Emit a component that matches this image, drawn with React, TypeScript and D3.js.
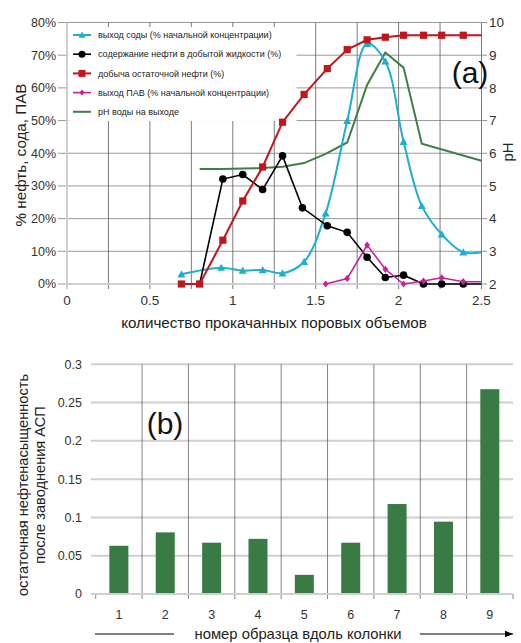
import React from "react";
import * as d3 from "d3";

// ---- Chart (a) data ----
const xTicksA = [0, 0.5, 1, 1.5, 2, 2.5];
const yTicksA = [0, 10, 20, 30, 40, 50, 60, 70, 80];
const phTicks = [2, 3, 4, 5, 6, 7, 8, 9, 10];

const sodaX = [0.69, 0.93, 1.06, 1.18, 1.3, 1.43, 1.56, 1.69, 1.81, 1.92, 2.03, 2.14, 2.26, 2.39, 2.5];
const sodaY = [3.0, 5.0, 4.1, 4.3, 3.3, 6.8, 21.6, 49.9, 73.5, 68.1, 43.5, 23.9, 15.2, 9.7, 9.7];
const sodaMarkers = 14;

const oilX = [0.8, 0.94, 1.06, 1.18, 1.3, 1.42, 1.57, 1.69, 1.81, 1.92, 2.03, 2.15, 2.26, 2.39, 2.5];
const oilY = [0, 32.1, 33.5, 28.9, 39.2, 23.3, 17.8, 15.8, 8.2, 2.0, 2.7, 0, 0, 0, 0];
const oilMarkers = [false, true, true, true, true, true, true, true, true, true, true, true, true, true, false];

const recX = [0.69, 0.8, 0.94, 1.06, 1.18, 1.3, 1.43, 1.57, 1.69, 1.81, 1.92, 2.03, 2.15, 2.26, 2.39, 2.5];
const recY = [0, 0, 13.4, 25.4, 35.8, 49.5, 58.0, 65.9, 71.7, 74.7, 75.5, 76.1, 76.1, 76.1, 76.1, 76.1];
const recMarkers = 15;

const surfX = [1.56, 1.69, 1.81, 1.92, 2.03, 2.15, 2.26, 2.39, 2.5];
const surfY = [0, 1.7, 11.9, 4.5, 0, 0.9, 1.9, 0.7, 0.7];
const surfMarkers = 8;

const phX = [0.8, 0.94, 1.06, 1.18, 1.3, 1.43, 1.56, 1.69, 1.81, 1.92, 2.03, 2.14, 2.5];
const phY = [5.52, 5.52, 5.53, 5.55, 5.59, 5.7, 5.98, 6.33, 8.09, 9.08, 8.62, 6.29, 5.77];

const legendLabels = [
  "выход соды (% начальной концентрации)",
  "содержание нефти в добытой жидкости (%)",
  "добыча остаточной нефти (%)",
  "выход ПАВ (% начальной концентрации)",
  "pH воды на выходе",
];

// ---- Chart (b) data ----
const samples = ["1", "2", "3", "4", "5", "6", "7", "8", "9"];
const residual = [0.063, 0.0805, 0.067, 0.072, 0.025, 0.067, 0.1175, 0.0945, 0.2675];
const yTicksB = [0, 0.05, 0.1, 0.15, 0.2, 0.25, 0.3];

const FONT = "'Liberation Sans', Arial, Helvetica, sans-serif";
const C_CYAN = "#1eaed0";
const C_BLACK = "#000000";
const C_RED = "#c0161e";
const C_MAG = "#c8209e";
const C_GREEN = "#3f7f47";
const C_BAR = "#3a7b45";

function Triangle({ x, y, s = 4, fill }: { x: number; y: number; s?: number; fill: string }) {
  return <path d={`M${x},${y - s}L${x + s},${y + s * 0.8}L${x - s},${y + s * 0.8}Z`} fill={fill} />;
}
function Diamond({ x, y, s = 3.6, fill }: { x: number; y: number; s?: number; fill: string }) {
  return <path d={`M${x},${y - s}L${x + s * 0.8},${y}L${x},${y + s}L${x - s * 0.8},${y}Z`} fill={fill} />;
}

export default function App() {
  // chart (a) scales
  const xA = d3.scaleLinear().domain([0, 2.5]).range([67, 481.5]);
  const yA = d3.scaleLinear().domain([0, 80]).range([284, 22.5]);
  const yPH = d3.scaleLinear().domain([2, 10]).range([284, 22.5]);

  const lineA = (xs: number[], ys: number[], curve: any = d3.curveLinear) =>
    d3
      .line<number>()
      .x((_, i) => xA(xs[i]))
      .y((d) => yA(d))
      .curve(curve)(ys) || "";
  const linePH =
    d3
      .line<number>()
      .x((_, i) => xA(phX[i]))
      .y((d) => yPH(d))(phY) || "";

  const gridA: number[] = d3.range(0.25, 2.5, 0.25);

  // chart (b) scales
  const xB = d3.scaleBand<string>().domain(samples).range([95.7, 513]).padding(0);
  const yB = d3.scaleLinear().domain([0, 0.3]).range([594, 364.3]);
  const barW = xB.bandwidth() * 0.41;

  return (
    <svg
      width={521}
      height={643}
      style={{ position: "absolute", left: 0, top: 0, background: "#fff" }}
      fontFamily={FONT}
    >
      <defs>
        <clipPath id="plotA">
          <rect x={60} y={15} width={422} height={275} />
        </clipPath>
        <marker id="arrowHead" viewBox="0 0 10 10" refX={10} refY={5} markerWidth={9} markerHeight={8} orient="auto" markerUnits="userSpaceOnUse">
          <path d="M0,1L10,5L0,9Z" fill="#000" />
        </marker>
      </defs>

      {/* ===== Chart (a) ===== */}
      {yTicksA.slice(1).map((t) => (
        <line key={"h" + t} x1={58} x2={481.5} y1={yA(t)} y2={yA(t)} stroke="#9a9a9a" strokeWidth={1} />
      ))}
      {gridA.map((t) => (
        <line key={"v" + t} x1={xA(t)} x2={xA(t)} y1={22.5} y2={289} stroke="#5a5a5a" strokeWidth={0.8} />
      ))}
      <line x1={481.5} x2={481.5} y1={22.5} y2={289} stroke="#5a5a5a" strokeWidth={0.8} />
      {phTicks.map((t) => (
        <line key={"pt" + t} x1={481.5} x2={487} y1={yPH(t)} y2={yPH(t)} stroke="#777" strokeWidth={0.8} />
      ))}
      <line x1={58} x2={481.5} y1={284} y2={284} stroke="#cfcfcf" strokeWidth={2} />
      <line x1={67} x2={67} y1={22.5} y2={289} stroke="#cfcfcf" strokeWidth={2} />

      {/* legend background */}
      <rect x={68.5} y={27} width={228} height={94} fill="#fff" />

      <g clipPath="url(#plotA)">
        <path d={linePH} fill="none" stroke={C_GREEN} strokeWidth={2} />
        <path d={lineA(sodaX, sodaY, d3.curveCatmullRom)} fill="none" stroke={C_CYAN} strokeWidth={2} />
        {sodaX.slice(0, sodaMarkers).map((x, i) => (
          <Triangle key={"s" + i} x={xA(x)} y={yA(sodaY[i])} fill={C_CYAN} />
        ))}
        <path d={lineA(oilX, oilY)} fill="none" stroke={C_BLACK} strokeWidth={1.6} />
        {oilX.map((x, i) =>
          oilMarkers[i] ? <circle key={"o" + i} cx={xA(x)} cy={yA(oilY[i])} r={3.8} fill={C_BLACK} /> : null
        )}
        <path d={lineA(recX, recY)} fill="none" stroke={C_RED} strokeWidth={2} />
        {recX.slice(0, recMarkers).map((x, i) => (
          <rect key={"r" + i} x={xA(x) - 3.6} y={yA(recY[i]) - 3.6} width={7.2} height={7.2} fill={C_RED} />
        ))}
        <path d={lineA(surfX, surfY)} fill="none" stroke={C_MAG} strokeWidth={1.6} />
        {surfX.slice(0, surfMarkers).map((x, i) => (
          <Diamond key={"m" + i} x={xA(x)} y={yA(surfY[i])} fill={C_MAG} />
        ))}
      </g>

      {/* legend */}
      {legendLabels.map((lab, i) => {
        const y = 35 + i * 19.2;
        const cx = 82;
        return (
          <g key={"lg" + i}>
            {i === 0 && (
              <>
                <line x1={73} x2={91} y1={y} y2={y} stroke={C_CYAN} strokeWidth={2} />
                <Triangle x={cx} y={y} s={3.5} fill={C_CYAN} />
              </>
            )}
            {i === 1 && (
              <>
                <line x1={73} x2={91} y1={y} y2={y} stroke={C_BLACK} strokeWidth={1.6} />
                <circle cx={cx} cy={y} r={3.5} fill={C_BLACK} />
              </>
            )}
            {i === 2 && (
              <>
                <line x1={73} x2={91} y1={y} y2={y} stroke={C_RED} strokeWidth={2} />
                <rect x={cx - 3.5} y={y - 3.5} width={7} height={7} fill={C_RED} />
              </>
            )}
            {i === 3 && (
              <>
                <line x1={73} x2={91} y1={y} y2={y} stroke={C_MAG} strokeWidth={1.6} />
                <Diamond x={cx} y={y} s={3.2} fill={C_MAG} />
              </>
            )}
            {i === 4 && <line x1={73} x2={91} y1={y} y2={y} stroke={C_GREEN} strokeWidth={2} />}
            <text x={98} y={y} dy="0.35em" fontSize={9} fill="#222">
              {lab}
            </text>
          </g>
        );
      })}

      {yTicksA.map((t) => (
        <text key={"yl" + t} x={56} y={yA(t)} dy="0.35em" textAnchor="end" fontSize={12.5} fill="#333">
          {t}%
        </text>
      ))}
      {phTicks.map((t) => (
        <text key={"pl" + t} x={489} y={yPH(t)} dy="0.35em" fontSize={13.5} fill="#333">
          {t}
        </text>
      ))}
      {xTicksA.map((t) => (
        <text key={"xl" + t} x={xA(t)} y={300} dy="0.35em" textAnchor="middle" fontSize={13.5} fill="#333">
          {t}
        </text>
      ))}
      <text x={274} y={323} dy="0.35em" textAnchor="middle" fontSize={15.2} fill="#222">
        количество прокачанных поровых объемов
      </text>
      <text transform="translate(21,155) rotate(-90)" textAnchor="middle" dy="0.35em" fontSize={15.2} fill="#222">
        % нефть, сода, ПАВ
      </text>
      <text transform="translate(508,152) rotate(-90)" textAnchor="middle" dy="0.35em" fontSize={15} fill="#222">
        pH
      </text>
      <text x={470} y={72} dy="0.35em" textAnchor="middle" fontSize={30} fill="#111">
        (a)
      </text>

      {/* ===== Chart (b) ===== */}
      {yTicksB.slice(1).map((t) => (
        <line key={"bh" + t} x1={91} x2={513} y1={yB(t)} y2={yB(t)} stroke="#cfcfcf" strokeWidth={2} />
      ))}
      {samples.slice(1).map((s) => (
        <line key={"bv" + s} x1={xB(s)!} x2={xB(s)!} y1={364.3} y2={599} stroke="#666" strokeWidth={0.8} />
      ))}
      <line x1={95.7} x2={95.7} y1={594} y2={599} stroke="#666" strokeWidth={0.8} />
      <line x1={513} x2={513} y1={594} y2={599} stroke="#666" strokeWidth={0.8} />
      {residual.map((v, i) => (
        <rect
          key={"bar" + i}
          x={xB(samples[i])! + xB.bandwidth() / 2 - barW / 2}
          y={yB(v)}
          width={barW}
          height={yB(0) - yB(v)}
          fill={C_BAR}
        />
      ))}
      <line x1={91} x2={513} y1={594} y2={594} stroke="#cfcfcf" strokeWidth={2} />
      {yTicksB.map((t) => (
        <text key={"byl" + t} x={82} y={yB(t)} dy="0.35em" textAnchor="end" fontSize={12.5} fill="#333">
          {t}
        </text>
      ))}
      {samples.map((s) => (
        <text key={"bxl" + s} x={xB(s)! + xB.bandwidth() / 2} y={615} dy="0.35em" textAnchor="middle" fontSize={12.5} fill="#333">
          {s}
        </text>
      ))}
      <text x={298} y={634} dy="0.35em" textAnchor="middle" fontSize={14.8} fill="#222">
        номер образца вдоль колонки
      </text>
      <line x1={95} x2={174} y1={634} y2={634} stroke="#000" strokeWidth={1} />
      <line x1={420} x2={513} y1={634} y2={634} stroke="#000" strokeWidth={1} markerEnd="url(#arrowHead)" />
      <text transform="translate(23,485) rotate(-90)" textAnchor="middle" dy="0.35em" fontSize={14.6} fill="#222">
        остаточная нефтенасыщенность
      </text>
      <text transform="translate(40,485) rotate(-90)" textAnchor="middle" dy="0.35em" fontSize={14.6} fill="#222">
        после заводнения АСП
      </text>
      <text x={165} y={423} dy="0.35em" textAnchor="middle" fontSize={30} fill="#111">
        (b)
      </text>
    </svg>
  );
}
